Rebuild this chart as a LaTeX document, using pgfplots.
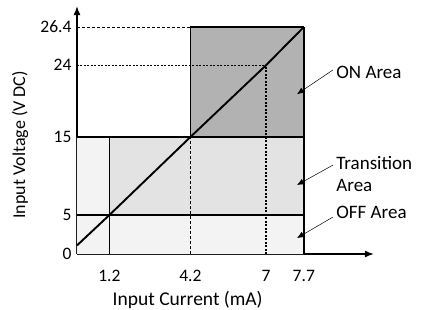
\documentclass[border=0pt]{standalone}
\usepackage{fontspec}
\setmainfont{Carlito}
\usepackage{pgfplots}
\pgfplotsset{compat=1.18}
\usetikzlibrary{arrows.meta}
\definecolor{onc}{RGB}{178,178,178}
\definecolor{trc}{RGB}{227,227,227}
\definecolor{offc}{RGB}{243,243,243}
\newcommand\lblfont{\fontsize{19pt}{22pt}\selectfont}
\begin{document}
\begin{tikzpicture}
\begin{axis}[
  scale only axis, width=297pt, height=248pt,
  xmin=0, xmax=11, ymin=0, ymax=31.8,
  axis lines=left,
  axis line style={line width=1.6pt, -{Latex[length=9pt,width=7pt]}},
  clip=false,
  xtick={1.2,4.2,7,8.4}, xticklabels={1.2,4.2,7,7.7},
  ytick={0,5,15,24.2,29.1}, yticklabels={0,5,15,24,26.4},
  major tick length=0pt,
  /pgf/number format/assume math mode=true,
  xticklabel style={font=\fontsize{17.5pt}{20pt}\selectfont, yshift=-13pt},
  yticklabel style={font=\fontsize{17.5pt}{20pt}\selectfont, xshift=-2pt},
  xlabel={Input Current (mA)}, ylabel={Input Voltage (V DC)},
  xlabel style={font=\fontsize{19.5pt}{22pt}\selectfont, at={(axis cs:4.1,0)}, anchor=center, yshift=-46pt},
  ylabel style={font=\fontsize{18pt}{21pt}\selectfont, at={(axis cs:0,14)}, anchor=center, xshift=0pt, yshift=57pt},
]
% regions
\addplot[fill=offc, draw=none] coordinates {(0,0) (8.4,0) (8.4,5) (1.2,5) (1.2,15) (0,15)} -- cycle;
\addplot[fill=trc, draw=none] coordinates {(1.2,5) (8.4,5) (8.4,15) (1.2,15)} -- cycle;
\addplot[fill=onc, draw=none] coordinates {(4.2,15) (8.4,15) (8.4,29.1) (4.2,29.1)} -- cycle;
% guide lines
\addplot[black, line width=0.6pt, dash pattern=on 3pt off 2pt] coordinates {(4.2,0) (4.2,15)};
\addplot[black, line width=0.6pt, dash pattern=on 3pt off 2pt] coordinates {(0,29.1) (4.2,29.1)};
\addplot[black, line width=1.1pt, dash pattern=on 2pt off 1.5pt] coordinates {(0,24.2) (7,24.2)};
\addplot[black, line width=1.1pt, dash pattern=on 2pt off 1.5pt] coordinates {(7,0) (7,24.2)};
% borders
\addplot[black, line width=1.6pt] coordinates {(0,5) (8.4,5)};
\addplot[black, line width=1.6pt] coordinates {(0,15) (8.4,15)};
\addplot[black, line width=1.7pt] coordinates {(1.2,0) (1.2,15)};
\addplot[black, line width=1.6pt] coordinates {(8.4,0) (8.4,29.1)};
\addplot[black, line width=1.6pt] coordinates {(4.2,15) (4.2,29.1) (8.4,29.1)};
% characteristic
\addplot[black, line width=1.9pt] coordinates {(0,1.1) (1.2,5) (4.2,15) (7,24.2) (8.4,29.1)};
% annotations
\node[anchor=west, inner sep=0pt, font=\lblfont] at (axis cs:9.6,23.3) {ON Area};
\node[anchor=west, inner sep=0pt, align=left, font=\lblfont] at (axis cs:9.6,10.3) {Transition\\Area};
\node[anchor=west, inner sep=0pt, font=\lblfont] at (axis cs:9.6,5.3) {OFF Area};
\draw[-{Latex[length=7pt,width=6pt]}, line width=0.5pt] (axis cs:9.48,23.6) -- (axis cs:8.15,20.5);
\draw[-{Latex[length=7pt,width=6pt]}, line width=0.5pt] (axis cs:9.48,11.4) -- (axis cs:8.15,8.85);
\draw[-{Latex[length=7pt,width=6pt]}, line width=0.5pt] (axis cs:9.48,4.74) -- (axis cs:8.15,2.05);
\end{axis}
\pgfresetboundingbox
\path[use as bounding box] (-77pt,-55pt) rectangle (344pt,254pt);
\end{tikzpicture}
\end{document}
